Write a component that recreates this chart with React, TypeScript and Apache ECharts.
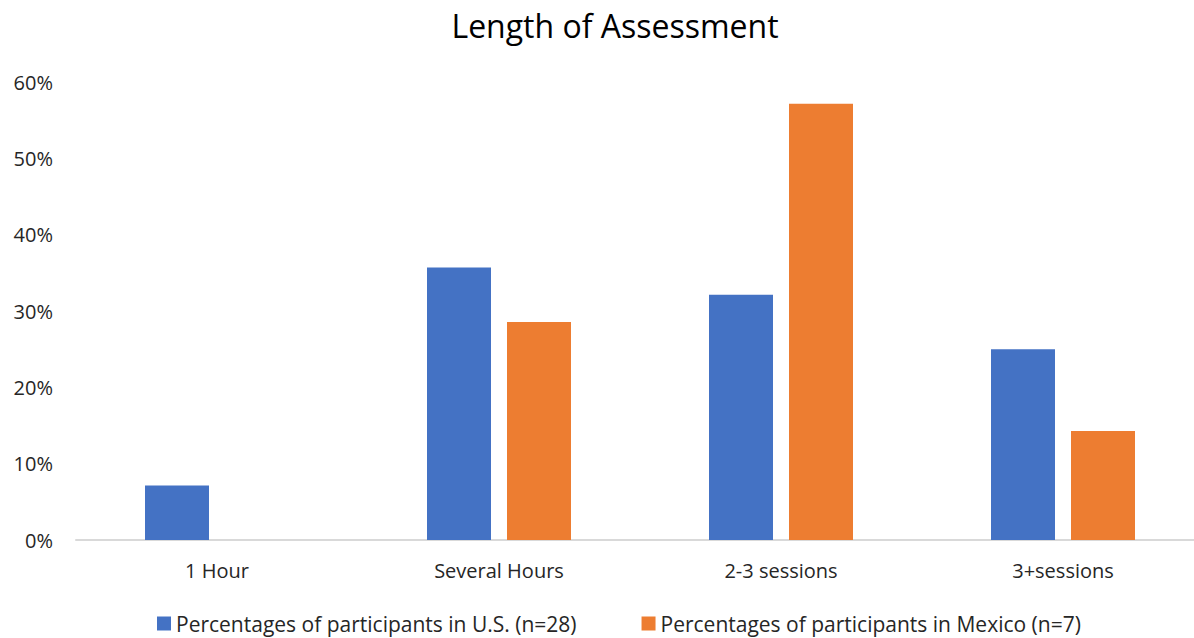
import React, { useEffect, useRef } from "react";
import * as echarts from "echarts";

const categories = ["1 Hour", "Several Hours", "2-3 sessions", "3+sessions"];
const usLabel = "Percentages of participants in U.S. (n=28)";
const mexicoLabel = "Percentages of participants in Mexico (n=7)";
// Share of participants, in percent
const usValues = [7.14, 35.71, 32.14, 25.0];
const mexicoValues = [0, 28.57, 57.14, 14.29];
const yTicks = { min: 0, max: 60, interval: 10 };

const FONT = "'Open Sans', 'Liberation Sans', sans-serif";

export default function App() {
  const ref = useRef<HTMLDivElement>(null);

  useEffect(() => {
    if (!ref.current) return;
    const chart = echarts.init(ref.current, undefined, { renderer: "svg" });
    chart.setOption({
      animation: false,
      backgroundColor: "#ffffff",
      textStyle: { fontFamily: FONT },
      title: {
        text: "Length of Assessment",
        left: 610,
        textAlign: "center",
        top: 4,
        textStyle: { fontFamily: FONT, fontSize: 32, fontWeight: "normal", color: "#000000" },
      },
      legend: {
        top: 608,
        left: 152,
        itemWidth: 14,
        itemHeight: 14,
        itemGap: 65,
        icon: "rect",
        textStyle: { fontFamily: FONT, fontSize: 21, color: "#262626" },
        data: [usLabel, mexicoLabel],
      },
      // the category band runs past the right edge, so the plot area is not clamped
      grid: {
        left: 76,
        width: 1128,
        top: 82,
        height: 458,
        containLabel: false,
        outerBoundsMode: "none",
      },
      xAxis: {
        type: "category",
        data: categories,
        axisLine: { lineStyle: { color: "#d9d9d9", width: 2 } },
        axisTick: { show: false },
        axisLabel: { fontFamily: FONT, fontSize: 20, color: "#262626", margin: 20 },
      },
      yAxis: {
        type: "value",
        min: yTicks.min,
        max: yTicks.max,
        interval: yTicks.interval,
        splitLine: { show: false },
        axisLine: { show: false },
        axisTick: { show: false },
        axisLabel: {
          fontFamily: FONT,
          fontSize: 20,
          color: "#262626",
          margin: 23,
          formatter: (v: number) => `${v}%`,
        },
      },
      series: [
        {
          name: usLabel,
          type: "bar",
          data: usValues,
          barWidth: 64,
          barGap: "25%",
          itemStyle: { color: "#4472c4" },
        },
        {
          name: mexicoLabel,
          type: "bar",
          data: mexicoValues,
          barWidth: 64,
          itemStyle: { color: "#ed7d31" },
        },
      ],
    });
    return () => chart.dispose();
  }, []);

  return (
    <div
      ref={ref}
      style={{ position: "fixed", left: 0, top: 0, width: 1194, height: 638, overflow: "hidden" }}
    />
  );
}
